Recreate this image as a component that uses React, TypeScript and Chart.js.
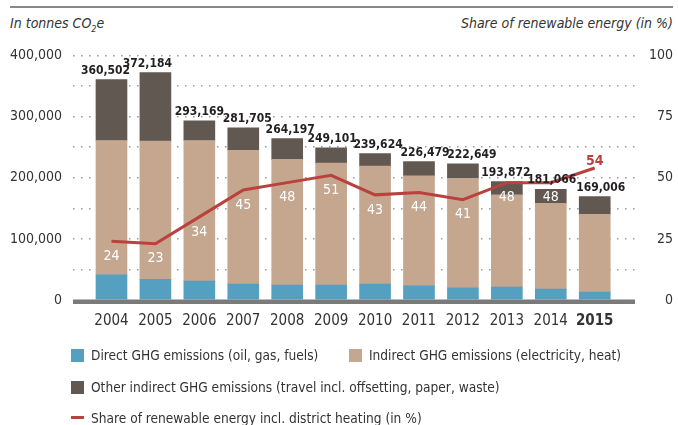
import React, { useEffect, useRef } from 'react';
import { Chart, registerables } from 'chart.js';

Chart.register(...registerables);

const years = ['2004', '2005', '2006', '2007', '2008', '2009', '2010', '2011', '2012', '2013', '2014', '2015'];
const totals = [360502, 372184, 293169, 281705, 264197, 249101, 239624, 226479, 222649, 193872, 181066, 169006];
const directEmissions = [41000, 34000, 31000, 26000, 24500, 24500, 26000, 23000, 20000, 21000, 18000, 13000];
const indirectEmissions = [220000, 226000, 230000, 219000, 205500, 199500, 193000, 180000, 179000, 151000, 140000, 127000];
const otherIndirectEmissions = [99502, 112184, 32169, 36705, 34197, 25101, 20624, 23479, 23649, 21872, 23066, 29006];
const renewableShare = [24, 23, 34, 45, 48, 51, 43, 44, 41, 48, 48, 54];

const seriesLabels = [
  'Direct GHG emissions (oil, gas, fuels)',
  'Indirect GHG emissions (electricity, heat)',
  'Other indirect GHG emissions (travel incl. offsetting, paper, waste)',
  'Share of renewable energy incl. district heating (in %)',
];

// horizontal nudges (px) of the total labels, as placed in the original layout
const totalLabelNudge = [-6, -8, 0, 4, 3, 1, 3, 6, 9, -1, 1, 6];

const FONT = "'DejaVu Sans Condensed', 'Liberation Sans Narrow', sans-serif";
const BLUE = '#55a0c1';
const TAN = '#c5a68e';
const DARK = '#615851';
const RED = '#b9423f';
const TEXT = '#333333';

const pts = (arr: number[]) => arr.map((v, i) => ({ x: i, y: v }));

const decorPlugin = {
  id: 'decor',
  afterDatasetsDraw(chart: any) {
    const { ctx, chartArea, scales } = chart;
    const xs = scales.x;
    const ys = scales.y;
    const y2 = scales.y2;
    ctx.save();
    ctx.fillStyle = '#7a7a7a';
    ctx.fillRect(chartArea.left, chartArea.bottom - 0.5, chartArea.right - chartArea.left, 4.5);
    ctx.fillStyle = '#231f20';
    ctx.font = `bold 12px ${FONT}`;
    ctx.textAlign = 'center';
    ctx.textBaseline = 'middle';
    totals.forEach((t, i) => {
      const x = xs.getPixelForValue(i) + totalLabelNudge[i];
      const y = ys.getPixelForValue(t) - 9;
      ctx.fillText(t.toLocaleString('en-US'), x, y);
    });
    renewableShare.forEach((v, i) => {
      const x = xs.getPixelForValue(i);
      const y = y2.getPixelForValue(v);
      if (i === renewableShare.length - 1) {
        ctx.fillStyle = RED;
        ctx.font = `bold 14px ${FONT}`;
        ctx.fillText(String(v), x, y - 7);
      } else {
        ctx.fillStyle = '#ffffff';
        ctx.font = `14px ${FONT}`;
        ctx.fillText(String(v), x, y + 15);
      }
    });
    ctx.restore();
  },
};

function ChartView() {
  const ref = useRef<HTMLCanvasElement | null>(null);
  useEffect(() => {
    if (!ref.current) return;
    const chart = new Chart(ref.current, {
      type: 'bar',
      data: {
        datasets: [
          {
            type: 'line',
            label: seriesLabels[3],
            data: pts(renewableShare),
            yAxisID: 'y2',
            borderColor: RED,
            borderWidth: 3,
            pointRadius: 0,
            tension: 0,
            order: 0,
          } as any,
          { type: 'bar', label: seriesLabels[0], data: pts(directEmissions), backgroundColor: BLUE, barThickness: 31, yAxisID: 'y', order: 1 },
          { type: 'bar', label: seriesLabels[1], data: pts(indirectEmissions), backgroundColor: TAN, barThickness: 31, yAxisID: 'y', order: 1 },
          { type: 'bar', label: seriesLabels[2], data: pts(otherIndirectEmissions), backgroundColor: DARK, barThickness: 31, yAxisID: 'y', order: 1 },
        ],
      },
      options: {
        animation: false,
        responsive: true,
        maintainAspectRatio: false,
        layout: { padding: { top: 55.5, right: 5, left: 0, bottom: 0 } },
        plugins: { legend: { display: false }, tooltip: { enabled: false } },
        scales: {
          x: {
            type: 'linear',
            stacked: true,
            offset: false,
            min: -0.876,
            max: 11.917,
            afterBuildTicks: (s: any) => {
              s.ticks = years.map((_, i) => ({ value: i }));
            },
            afterFit: (s: any) => {
              s.height = 125;
            },
            grid: { display: false, drawTicks: false, offset: false },
            border: { display: false },
            ticks: {
              autoSkip: false,
              maxRotation: 0,
              padding: 12,
              color: TEXT,
              callback: (v: any) => years[v] ?? '',
              font: (c: any) => ({ family: FONT, size: 15, weight: c.index === years.length - 1 ? 'bold' : 'normal' }),
            },
          },
          y: {
            type: 'linear',
            position: 'left',
            stacked: true,
            min: 0,
            max: 400000,
            afterFit: (s: any) => {
              s.width = 73;
            },
            border: { display: false, dash: [1.5, 6.5] },
            grid: {
              drawTicks: false,
              lineWidth: 1.5,
              color: (c: any) => (c.tick && c.tick.value === 0 ? 'rgba(0,0,0,0)' : '#9a9a9a'),
            },
            ticks: {
              stepSize: 50000,
              padding: 11,
              color: TEXT,
              font: { family: FONT, size: 14 },
              callback: (v: any) => (v % 100000 === 0 ? Number(v).toLocaleString('en-US') : ''),
            },
          },
          y2: {
            type: 'linear',
            position: 'right',
            min: 0,
            max: 100,
            afterFit: (s: any) => {
              s.width = 38;
            },
            border: { display: false },
            grid: { display: false, drawTicks: false },
            ticks: {
              stepSize: 25,
              crossAlign: 'far',
              color: TEXT,
              font: { family: FONT, size: 14 },
            },
          },
        },
      },
      plugins: [decorPlugin],
    });
    return () => chart.destroy();
  }, []);
  return <canvas ref={ref} />;
}

export default function App() {
  const textStyle: React.CSSProperties = {
    position: 'absolute',
    fontFamily: FONT,
    fontSize: 14,
    color: TEXT,
    whiteSpace: 'nowrap',
    lineHeight: '16px',
  };
  const sq = (color: string, left: number, top: number): React.CSSProperties => ({
    position: 'absolute',
    left,
    top,
    width: 13,
    height: 13,
    background: color,
  });
  return (
    <div style={{ position: 'fixed', left: 0, top: 0, width: 678, height: 425, background: '#fff', overflow: 'hidden' }}>
      <div style={{ position: 'absolute', left: 10, top: 6, width: 663, height: 1.5, background: '#888' }} />
      <div style={{ ...textStyle, left: 10, top: 15, fontStyle: 'italic', fontSize: 14 }}>
        In tonnes CO<sub style={{ fontSize: 9, verticalAlign: 'sub', lineHeight: 0 }}>2</sub>e
      </div>
      <div style={{ ...textStyle, right: 5, top: 15, fontStyle: 'italic', fontSize: 14 }}>Share of renewable energy (in %)</div>
      <div style={{ position: 'absolute', left: 0, top: 0, width: 678, height: 425 }}>
        <ChartView />
      </div>
      <div style={sq(BLUE, 71, 349)} />
      <div style={{ ...textStyle, left: 91, top: 347, fontSize: 13.6 }}>{seriesLabels[0]}</div>
      <div style={sq(TAN, 349, 349)} />
      <div style={{ ...textStyle, left: 369, top: 347, fontSize: 13.6 }}>{seriesLabels[1]}</div>
      <div style={sq(DARK, 71, 381)} />
      <div style={{ ...textStyle, left: 91, top: 379, fontSize: 13.6 }}>{seriesLabels[2]}</div>
      <div style={{ position: 'absolute', left: 71, top: 416, width: 13, height: 3, background: RED }} />
      <div style={{ ...textStyle, left: 91, top: 410, fontSize: 13.6 }}>{seriesLabels[3]}</div>
    </div>
  );
}
